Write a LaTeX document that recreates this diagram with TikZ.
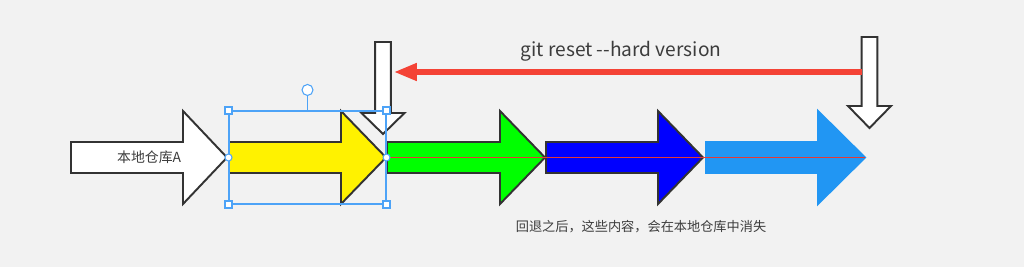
\documentclass[tikz,border=0pt]{standalone}
\usepackage{fontspec}
\newfontfamily\cjk{Noto Sans CJK SC}
\usepackage{tikz}
\usetikzlibrary{positioning, arrows.meta, calc}

\definecolor{bgGray}{HTML}{F2F2F2}
\definecolor{edgeGray}{HTML}{333333}
\definecolor{resetRed}{HTML}{F44336}
\definecolor{lineRed}{HTML}{E53935}
\definecolor{selBlue}{HTML}{4DA3F7}
\definecolor{skyBlue}{HTML}{2196F3}
\definecolor{textGray}{HTML}{3C3C3C}

\begin{document}
\begin{tikzpicture}[
			x=0.02cm, y=-0.02cm,
			% Define styles for the shapes
			commit/.style={
				line width=1.1pt,
				line join=miter
			},
			pointer/.style={
				draw=edgeGray,
				fill=white,
				line width=1.1pt
			},
			handle/.style={
				draw=selBlue,
				fill=white,
				line width=0.6pt,
				inner sep=0pt
			},
			label_text/.style={
				font=\cjk\fontsize{7.5}{9}\selectfont,
				text=textGray
			}
			]
			
			% --- 0. BACKGROUND ---
			\fill[bgGray] (0,0) rectangle (1024,267);
			\useasboundingbox (0,0) rectangle (1024,267);
			
			% --- 1. COMMIT ARROWS ---
			\foreach \cname/\tail/\neck/\tip/\col/\edge in {
				local/71/183/227/white/edgeGray,
				v1/229/341/386/yellow/edgeGray,
				v2/387/500/545/green/edgeGray,
				v3/546/658/703/blue/edgeGray,
				v4/706/818/865/skyBlue/skyBlue}
			{
				\draw[commit, draw=\edge, fill=\col]
				(\tail,142) -- (\neck,142) -- (\neck,111) -- (\tip,157.5)
				-- (\neck,204) -- (\neck,173) -- (\tail,173) -- cycle;
				\coordinate (\cname-tail) at (\tail,157.5);
				\coordinate (\cname-tip) at (\tip,157.5);
			}
			\node[label_text, font=\cjk\fontsize{7.9}{9}\selectfont, anchor=east, inner sep=0pt] (localLabel) at (181.5,157.5) {本地仓库A};
			
			% Thin red line through the commits
			\draw[lineRed, line width=1.1pt] (v1-tip) -- (v4-tip);
			
			% --- 2. VERSION POINTERS ---
			\foreach \cname/\cx/\top/\neck/\tip in {old/383/42/113/134, head/869.5/37/106/128}
			{
				\draw[pointer]
				({\cx-7.8},\top) -- ({\cx+7.8},\top) -- ({\cx+7.8},\neck) -- ({\cx+21.5},\neck)
				-- (\cx,\tip) -- ({\cx-21.5},\neck) -- ({\cx-7.8},\neck) -- cycle;
				\coordinate (\cname-shaft) at ({\cx-7.8},72);
			}
			
			% --- 3. RESET COMMAND ---
			\coordinate (resetTarget) at (394,72);
			\draw[resetRed, line width=3pt, -{Triangle[length=13pt, width=9.5pt]}] (head-shaft) -- (resetTarget);
			\node[font=\cjk\fontsize{10.9}{13}\selectfont, text=textGray] (cmd) at (621,51) {git reset --hard version};
			
			% --- 4. SELECTION FRAME ---
			\node[draw=selBlue, line width=0.6pt, inner sep=0pt, minimum width=3.14cm, minimum height=1.86cm] (sel) at (307.5,157.5) {};
			\foreach \c [count=\i] in {north west, north east, south west, south east}
			\node[handle, minimum size=0.14cm] (h-\i) at (sel.\c) {};
			\node[handle, circle, minimum size=0.14cm] (hw) at (sel.west) {};
			\node[handle, circle, minimum size=0.14cm] (he) at (sel.east) {};
			\node[handle, circle, minimum size=0.22cm, above=0.29cm of sel.north] (rot) {};
			\draw[selBlue, line width=0.6pt] (sel.north) -- (rot);
			
			% --- 5. NOTE ---
			\node[label_text] (note) at (641,227) {回退之后，这些内容，会在本地仓库中消失};
			
		\end{tikzpicture}
\end{document}
